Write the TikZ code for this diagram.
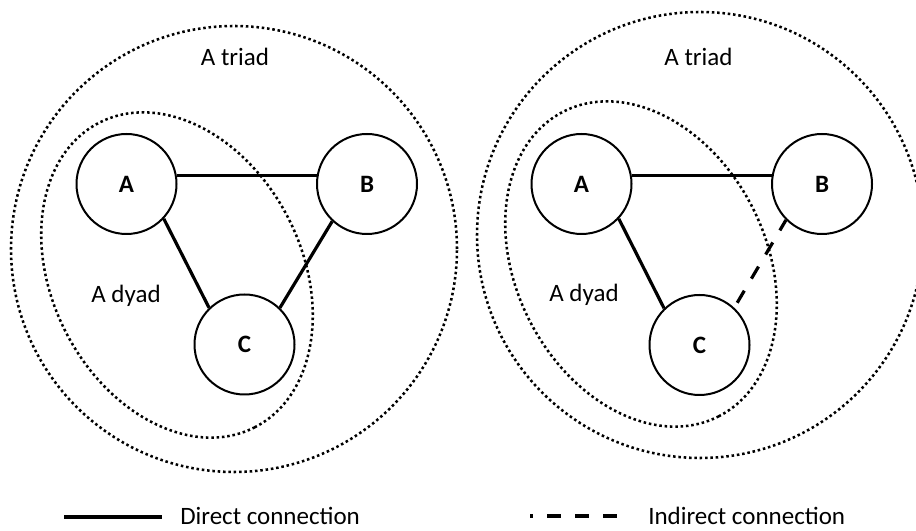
\documentclass[tikz,border=0pt]{standalone}
\usepackage{fontspec}
\setmainfont{Carlito}

\begin{document}
\begin{tikzpicture}[x=0.75pt,y=0.75pt,
  font=\fontsize{18.75pt}{22pt}\selectfont,
  person/.style={shape=circle,draw,line width=1.5pt,fill=white,minimum size=75pt,inner sep=0pt,font=\fontsize{18.75pt}{22pt}\selectfont\bfseries},
  group/.style={line width=1.9pt,dash pattern=on 1.9pt off 2.1pt},
  direct/.style={line width=2.4pt},
  indirect/.style={line width=2.4pt,dash pattern=on 10.5pt off 10.5pt,dash phase=1.5pt}]
  \clip (0,0) rectangle (916,531);

  % left: every pair linked directly
  \draw[group] (234,282) circle [radius=223];
  \draw[group, rotate around={-63:(177,256)}] (177,256) ellipse [x radius=171, y radius=125];
  \node[person] (A1) at (126.5,347) {A};
  \node[person] (B1) at (367,347) {B};
  \node[person] (C1) at (244.5,186.5) {C};
  \draw[direct] (A1.10) -- (B1.170);
  \draw[direct] (A1.-43) -- (C1.134);
  \draw[direct] (B1.-133) -- (C1.46);
  \node[anchor=base] (triad1) at (235,465) {A triad};
  \node[anchor=base] (dyad1) at (126,228) {A dyad};

  % right: B and C only linked indirectly
  \draw[group] (700,296) circle [radius=223];
  \draw[group, rotate around={-63:(641,267)}] (641,267) ellipse [x radius=171, y radius=125];
  \node[person] (A2) at (581.5,347) {A};
  \node[person] (B2) at (822,347) {B};
  \node[person] (C2) at (699.5,186) {C};
  \draw[direct] (A2.10) -- (B2.170);
  \draw[direct] (A2.-43) -- (C2.134);
  \draw[indirect] (B2.-135) -- (C2.47);
  \node[anchor=base] (triad2) at (698.5,465) {A triad};
  \node[anchor=base] (dyad2) at (584,229) {A dyad};

  % legend
  \coordinate (d0) at (64,14);
  \coordinate (d1) at (162,14);
  \draw[direct] (d0) -- (d1);
  \node[anchor=base west,inner sep=0pt] (dtext) at (180,6) {Direct connection};
  \coordinate (i0) at (530,15);
  \coordinate (i1) at (620,15);
  \draw[indirect,dash phase=8pt] (i0) -- (i1);
  \node[anchor=base west,inner sep=0pt] (itext) at (648,6) {Indirect connection};
\end{tikzpicture}
\end{document}
